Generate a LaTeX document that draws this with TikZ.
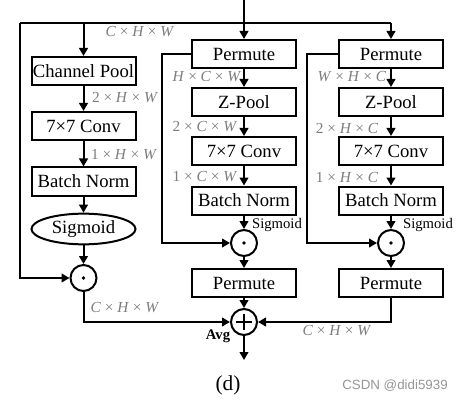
\documentclass[tikz,border=0pt]{standalone}
\usepackage{fontspec}
\setmainfont{Liberation Serif}
\newfontfamily\wmfont{Liberation Sans}
\usetikzlibrary{arrows.meta,shapes.geometric,calc}
\definecolor{labgray}{RGB}{125,125,125}
\definecolor{wmgray}{RGB}{150,150,150}
\tikzset{
  line/.style={line width=1.5pt},
  arr/.style={line width=1.5pt,-{Triangle[length=6pt,width=6.5pt]}},
  blk/.style={draw,line width=1.5pt,minimum width=78pt,minimum height=21pt,inner sep=0pt,font=\fontsize{14}{16}\selectfont},
  ell/.style={draw,ellipse,line width=1.5pt,minimum width=78pt,minimum height=23pt,inner sep=0pt,font=\fontsize{14}{16}\selectfont},
  opc/.style={draw,circle,line width=1.5pt,minimum size=19.5pt,inner sep=0pt},
  dim/.style={text=labgray,font=\fontsize{11.5}{13}\selectfont,inner sep=0pt},
  small/.style={font=\fontsize{11}{13}\selectfont,inner sep=0pt},
}
\newcommand{\dm}[3]{\textit{#1} × \textit{#2} × \textit{#3}}
\newcommand{\dn}[3]{#1 × \textit{#2} × \textit{#3}}
\begin{document}
\begin{tikzpicture}[x=0.75pt,y=-0.75pt]
\useasboundingbox (0,0) rectangle (461,403);
% column 1
\node[blk] (cp) at (83.5,71) {Channel Pool};
\node[blk] (c1) at (83.5,126) {7×7 Conv};
\node[blk] (b1) at (83.5,181.5) {Batch Norm};
\node[ell] (s1) at (83.5,229) {Sigmoid};
\node[opc] (o1) at (83.5,278) {};
\fill (o1.center) circle (1.8);
% column 2
\node[blk] (p2) at (244,54) {Permute};
\node[blk] (z2) at (244,102) {Z-Pool};
\node[blk] (c2) at (244,151) {7×7 Conv};
\node[blk] (b2) at (244,200.5) {Batch Norm};
\node[opc] (o2) at (244,243) {};
\fill (o2.center) circle (1.8);
\node[blk] (q2) at (244,283) {Permute};
% column 3
\node[blk] (p3) at (391,54) {Permute};
\node[blk] (z3) at (391,102) {Z-Pool};
\node[blk] (c3) at (391,151) {7×7 Conv};
\node[blk] (b3) at (391,200.5) {Batch Norm};
\node[opc] (o3) at (391,243) {};
\fill (o3.center) circle (1.8);
\node[blk] (q3) at (391,283) {Permute};
% sum
\node[opc] (pl) at (244,322) {};
\draw[line width=2.2pt] ($(pl.center)+(-8,0)$) -- ($(pl.center)+(8,0)$);
\draw[line width=2.2pt] ($(pl.center)+(0,-8)$) -- ($(pl.center)+(0,8)$);
% coordinates
\coordinate (in) at (244,0);
\coordinate (top) at (244,23);
\coordinate (tl) at (20,23);
\coordinate (tr) at (391,23);
\coordinate (t1) at (83.5,23);
\coordinate (out) at (244,360);
% top connectors
\draw[arr] (in) -- (p2.north);
\draw[line] (tl) -- (tr);
\draw[arr] (tr) -- (p3.north);
\draw[arr] (t1) -- (cp.north);
\draw[arr] (tl) |- (o1.west);
% column 1 chain
\draw[arr] (cp) -- (c1);
\draw[arr] (c1) -- (b1);
\draw[arr] (b1) -- (s1);
\draw[arr] (s1) -- (o1);
\draw[arr] (o1.south) |- (pl.west);
% column 2 chain
\draw[arr] (p2.west) -- ++(-29,0) |- (o2.west);
\draw[arr] (p2) -- (z2);
\draw[arr] (z2) -- (c2);
\draw[arr] (c2) -- (b2);
\draw[arr] (b2) -- (o2);
\draw[arr] (o2) -- (q2);
\draw[arr] (q2) -- (pl);
% column 3 chain
\draw[arr] (p3.west) -- ++(-31,0) |- (o3.west);
\draw[arr] (p3) -- (z3);
\draw[arr] (z3) -- (c3);
\draw[arr] (c3) -- (b3);
\draw[arr] (b3) -- (o3);
\draw[arr] (o3) -- (q3);
\draw[arr] (q3.south) |- (pl.east);
\draw[arr] (pl) -- (out);
% dimension labels
\node[dim] (d1) at (140,32) {\dm{C}{H}{W}};
\node[dim] (d2) at (125,98) {\dn{2}{H}{W}};
\node[dim] (d3) at (124,155) {\dn{1}{H}{W}};
\node[dim] (d4) at (207,77) {\dm{H}{C}{W}};
\node[dim] (d5) at (205,127) {\dn{2}{C}{W}};
\node[dim] (d6) at (205,177) {\dn{1}{C}{W}};
\node[dim] (d7) at (352,77) {\dm{W}{H}{C}};
\node[dim] (d8) at (347,128) {\dn{2}{H}{C}};
\node[dim] (d9) at (347,177) {\dn{1}{H}{C}};
\node[dim] (d10) at (125,308) {\dm{C}{H}{W}};
\node[dim] (d11) at (337,331) {\dm{C}{H}{W}};
% other labels
\node[small] (sg2) at (277,225) {Sigmoid};
\node[small] (sg3) at (428,225) {Sigmoid};
\node[small,font=\fontsize{11}{13}\selectfont\bfseries] (avg) at (218,336) {Avg};
\node[inner sep=0pt,font=\fontsize{16}{18}\selectfont] (cap) at (228,385) {(d)};
\node[inner sep=0pt,text=wmgray,font=\wmfont\fontsize{10}{12}\selectfont,anchor=west] (wm) at (342,386) {CSDN @didi5939};
\end{tikzpicture}
\end{document}
